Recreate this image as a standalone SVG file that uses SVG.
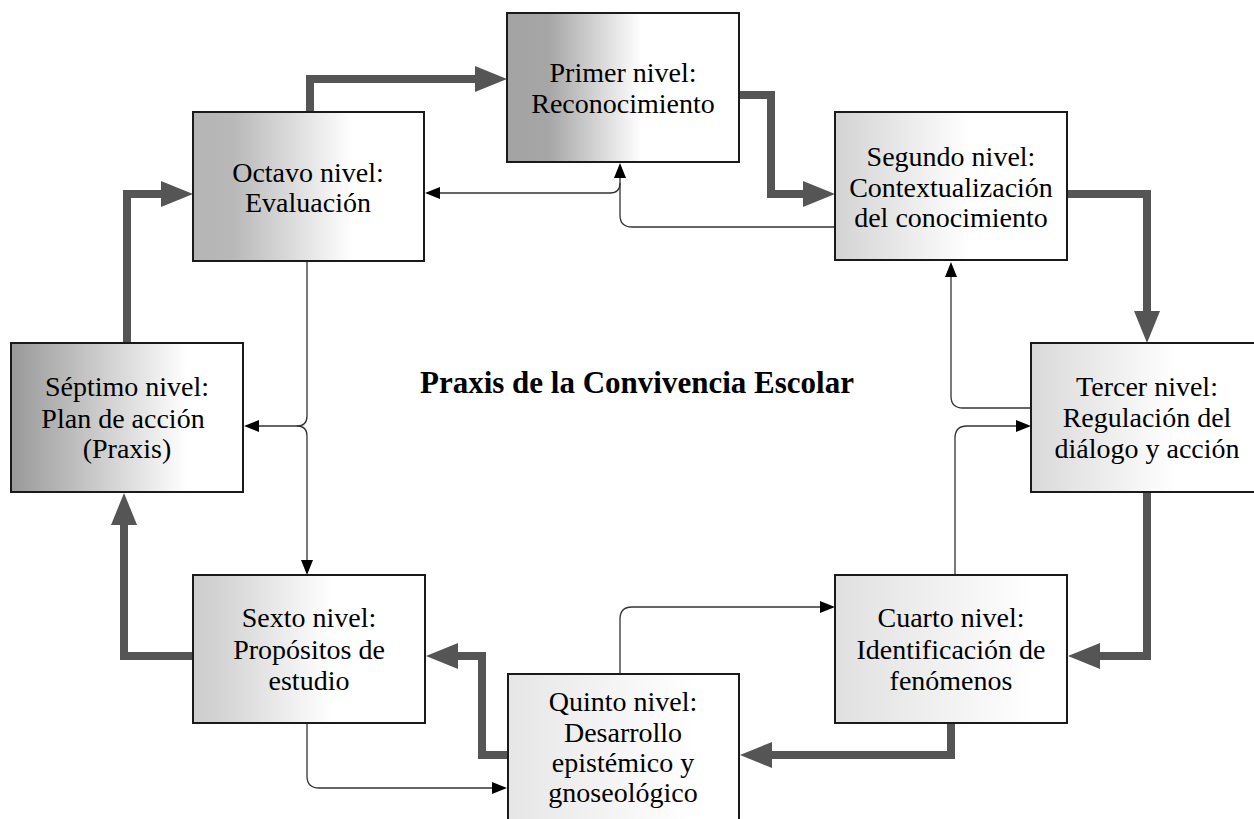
<svg xmlns="http://www.w3.org/2000/svg" width="1254" height="819" viewBox="0 0 1254 819">
<style>
.box{stroke:#1a1a1a;stroke-width:2}
.t{font-family:"Liberation Serif","Times New Roman",serif;font-size:28px;fill:#000;text-anchor:middle}
.title{font-family:"Liberation Serif","Times New Roman",serif;font-size:31px;font-weight:bold;fill:#000;text-anchor:middle}
.thick{fill:none;stroke:#555;stroke-width:8;marker-end:url(#bigArrow)}
.thin{fill:none;stroke:#333;stroke-width:1.3}
.thinA{marker-end:url(#smallArrow)}
</style>
<defs>
<marker id="bigArrow" markerUnits="userSpaceOnUse" markerWidth="32" markerHeight="26" refX="2" refY="13" orient="auto">
<path d="M0,0 L32,13 L0,26 Z" fill="#555"/>
</marker>
<marker id="smallArrow" markerUnits="userSpaceOnUse" markerWidth="15" markerHeight="12" refX="2" refY="6" orient="auto">
<path d="M0,0 L15,6 L0,12 Z" fill="#000"/>
</marker>
<linearGradient id="g1" x1="0" y1="0" x2="1" y2="0"><stop offset="0" stop-color="#a3a3a3"/><stop offset="0.18" stop-color="#a6a6a6"/><stop offset="0.58" stop-color="#fff"/><stop offset="1" stop-color="#fff"/></linearGradient>
<linearGradient id="g2" x1="0" y1="0" x2="1" y2="0"><stop offset="0" stop-color="#d3d3d3"/><stop offset="0.58" stop-color="#fff"/><stop offset="1" stop-color="#fff"/></linearGradient>
<linearGradient id="g3" x1="0" y1="0" x2="1" y2="0"><stop offset="0" stop-color="#d9d9d9"/><stop offset="0.62" stop-color="#fff"/><stop offset="1" stop-color="#fff"/></linearGradient>
<linearGradient id="g4" x1="0" y1="0" x2="1" y2="0"><stop offset="0" stop-color="#e0e0e0"/><stop offset="0.85" stop-color="#fff"/><stop offset="1" stop-color="#fff"/></linearGradient>
<linearGradient id="g5" x1="0" y1="0" x2="1" y2="0"><stop offset="0" stop-color="#e6e6e6"/><stop offset="0.8" stop-color="#fff"/><stop offset="1" stop-color="#fff"/></linearGradient>
<linearGradient id="g6" x1="0" y1="0" x2="1" y2="0"><stop offset="0" stop-color="#cdcdcd"/><stop offset="0.1" stop-color="#d2d2d2"/><stop offset="0.6" stop-color="#fff"/><stop offset="1" stop-color="#fff"/></linearGradient>
<linearGradient id="g7" x1="0" y1="0" x2="1" y2="0"><stop offset="0" stop-color="#999"/><stop offset="0.76" stop-color="#fff"/><stop offset="1" stop-color="#fff"/></linearGradient>
<linearGradient id="g8" x1="0" y1="0" x2="1" y2="0"><stop offset="0" stop-color="#b5b5b5"/><stop offset="0.17" stop-color="#b8b8b8"/><stop offset="0.69" stop-color="#fff"/><stop offset="1" stop-color="#fff"/></linearGradient>
</defs>
<rect width="1254" height="819" fill="#fff"/>

<g id="connectors">
<path class="thick" d="M310,113 V79 H477"/>
<path class="thick" d="M739,95 H771 V194 H805"/>
<path class="thick" d="M1067,194 H1147 V313"/>
<path class="thick" d="M1147,492 V656 H1098"/>
<path class="thick" d="M951,723 V755 H770"/>
<path class="thick" d="M508,755 H482 V656 H456"/>
<path class="thick" d="M193,656 H124 V523"/>
<path class="thick" d="M127,343 V194 H163"/>

<path class="thin thinA" d="M307,261 V416 Q307,426 297,426 H257"/>
<path class="thin thinA" d="M297,426 Q307,426 307,436 V562"/>
<path class="thin thinA" d="M835,227 H632 Q620,227 620,215 V176"/>
<path class="thin thinA" d="M620,183 Q620,193 610,193 H438"/>
<path class="thin thinA" d="M1031,408 H963 Q951,408 951,396 V275"/>
<path class="thin thinA" d="M955,575 V438 Q955,426 967,426 H1018"/>
<path class="thin thinA" d="M620,674 V619 Q620,607 632,607 H822"/>
<path class="thin thinA" d="M307,723 V776 Q307,788 319,788 H494"/>
</g>

<g id="primer">
<rect class="box" x="507" y="13" width="232" height="149" fill="url(#g1)"/>
<text class="t" x="623" y="82">Primer nivel:</text>
<text class="t" x="623" y="113">Reconocimiento</text>
</g>
<g id="segundo">
<rect class="box" x="835" y="112" width="232" height="148" fill="url(#g2)"/>
<text class="t" x="951" y="166">Segundo nivel:</text>
<text class="t" x="951" y="197">Contextualización</text>
<text class="t" x="951" y="227">del conocimiento</text>
</g>
<g id="tercer">
<rect class="box" x="1031" y="343" width="232" height="149" fill="url(#g3)"/>
<text class="t" x="1147" y="396">Tercer nivel:</text>
<text class="t" x="1147" y="427">Regulación del</text>
<text class="t" x="1147" y="458">diálogo y acción</text>
</g>
<g id="cuarto">
<rect class="box" x="835" y="575" width="232" height="148" fill="url(#g4)"/>
<text class="t" x="951" y="627">Cuarto nivel:</text>
<text class="t" x="951" y="659">Identificación de</text>
<text class="t" x="951" y="690">fenómenos</text>
</g>
<g id="quinto">
<rect class="box" x="508" y="674" width="231" height="149" fill="url(#g5)"/>
<text class="t" x="623" y="711">Quinto nivel:</text>
<text class="t" x="623" y="742">Desarrollo</text>
<text class="t" x="623" y="772">epistémico y</text>
<text class="t" x="623" y="802">gnoseológico</text>
</g>
<g id="sexto">
<rect class="box" x="193" y="575" width="232" height="148" fill="url(#g6)"/>
<text class="t" x="309" y="627">Sexto nivel:</text>
<text class="t" x="309" y="659">Propósitos de</text>
<text class="t" x="309" y="690">estudio</text>
</g>
<g id="septimo">
<rect class="box" x="11" y="343" width="232" height="149" fill="url(#g7)"/>
<text class="t" x="127" y="396">Séptimo nivel:</text>
<text class="t" x="123" y="428">Plan de acción</text>
<text class="t" x="127" y="458">(Praxis)</text>
</g>
<g id="octavo">
<rect class="box" x="193" y="112" width="231" height="149" fill="url(#g8)"/>
<text class="t" x="308" y="182">Octavo nivel:</text>
<text class="t" x="308" y="212">Evaluación</text>
</g>
<g id="title">
<text class="title" x="637" y="393">Praxis de la Convivencia Escolar</text>
</g>
</svg>
